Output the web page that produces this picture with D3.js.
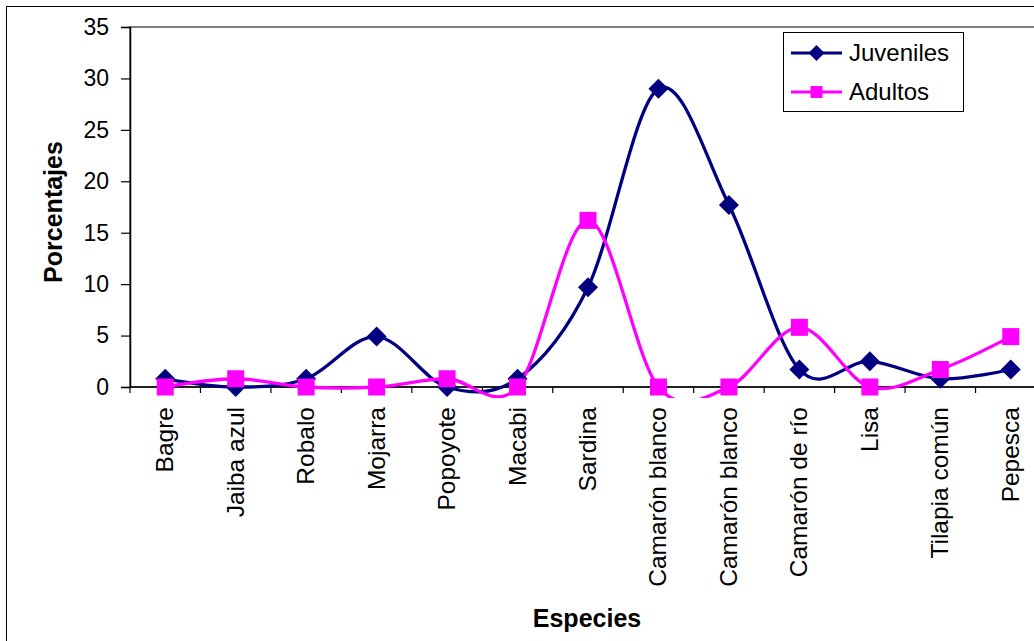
<!DOCTYPE html>
<html>
<head>
<meta charset="utf-8">
<script src="https://cdn.jsdelivr.net/npm/d3@7"></script>
<style>
  body { margin: 0; background: #fff; }
  svg text { font-family: "Liberation Sans", Arial, sans-serif; }
</style>
</head>
<body>
<div id="chart"></div>
<script>
// data
var especies = ["Bagre", "Jaiba azul", "Robalo", "Mojarra", "Popoyote", "Macabi", "Sardina",
  "Camarón blanco", "Camarón blanco", "Camarón de río", "Lisa", "Tilapia común", "Pepesca"];
var juveniles = [0.8, 0, 0.8, 4.9, 0, 0.8, 9.7, 29, 17.7, 1.7, 2.5, 0.8, 1.7];
var adultos = [0, 0.8, 0, 0, 0.8, 0, 16.2, 0, 0, 5.8, 0, 1.7, 4.9];
var yTicks = [0, 5, 10, 15, 20, 25, 30, 35];

var width = 1034, height = 641;
var stx = 130, enx = 1046, sty = 27, eny = 387;

var svg = d3.select("#chart").append("svg").attr("width", width).attr("height", height);

// outer chart frame
svg.append("rect").attr("x", 6.5).attr("y", 6.5).attr("width", 1100).attr("height", 700)
  .attr("fill", "none").attr("stroke", "#000").attr("stroke-width", 1);

// plot area frame
svg.append("rect").attr("x", stx).attr("y", sty).attr("width", enx - stx).attr("height", eny - sty)
  .attr("fill", "none").attr("stroke", "#808080").attr("stroke-width", 2);

var idx = d3.range(especies.length);
var xscale = d3.scaleBand().domain(idx).range([stx, enx]);
var yscale = d3.scaleLinear().domain([0, 35]).range([eny, sty]);
var cx = function(i) { return xscale(i) + xscale.bandwidth() / 2; };

// y axis
var yAxis = svg.append("g").attr("transform", "translate(" + stx + ",0)")
  .call(d3.axisLeft(yscale).tickValues(yTicks).tickSize(9).tickPadding(12));
yAxis.select(".domain").attr("stroke", "#000").attr("stroke-width", 1.5);
yAxis.selectAll(".tick line").attr("stroke", "#000").attr("stroke-width", 1.2);
yAxis.selectAll(".tick text").attr("font-size", 23).attr("fill", "#000")
  .style("font-family", "'Liberation Sans', Arial, sans-serif");

// x axis: ticks on category boundaries
var xAxisG = svg.append("g");
xAxisG.append("line").attr("x1", stx).attr("x2", enx).attr("y1", eny).attr("y2", eny)
  .attr("stroke", "#000").attr("stroke-width", 1.5);
xAxisG.selectAll(".xt").data(idx.concat([especies.length])).enter().append("line")
  .attr("x1", function(d) { return d < especies.length ? xscale(d) : enx; })
  .attr("x2", function(d) { return d < especies.length ? xscale(d) : enx; })
  .attr("y1", eny).attr("y2", eny + 6)
  .attr("stroke", "#000").attr("stroke-width", 1.2);
xAxisG.selectAll(".xl").data(idx).enter().append("text")
  .attr("transform", function(d) { return "translate(" + (cx(d) + 8) + "," + (eny + 20) + ") rotate(-90)"; })
  .attr("text-anchor", "end")
  .attr("font-size", 24.5)
  .text(function(d) { return especies[d]; });

// axis titles
svg.append("text").attr("x", 587).attr("y", 627).attr("text-anchor", "middle")
  .attr("font-size", 25).attr("font-weight", "bold").text("Especies");
svg.append("text").attr("transform", "translate(62,212) rotate(-90)").attr("text-anchor", "middle")
  .attr("font-size", 25).attr("font-weight", "bold").text("Porcentajes");

// clip lines slightly below the plot area
svg.append("clipPath").attr("id", "clip").append("rect")
  .attr("x", stx).attr("y", sty).attr("width", enx - stx).attr("height", eny - sty + 11);

var line = d3.line().x(function(d, i) { return cx(i); }).y(function(d) { return yscale(d); })
  .curve(d3.curveCatmullRom.alpha(0));

var series = [
  { name: "Juveniles", values: juveniles, color: "#000080", shape: "diamond" },
  { name: "Adultos", values: adultos, color: "#FF00FF", shape: "square" }
];

series.forEach(function(s) {
  svg.append("path").datum(s.values).attr("d", line).attr("clip-path", "url(#clip)")
    .attr("fill", "none").attr("stroke", s.color).attr("stroke-width", 3.3);
});

function marker(g, shape, x, y, size, color) {
  if (shape === "diamond") {
    var h = size / 2;
    g.append("path").attr("d", "M" + x + "," + (y - h) + "L" + (x + h) + "," + y + "L" + x + "," + (y + h) + "L" + (x - h) + "," + y + "Z")
      .attr("fill", color);
  } else {
    g.append("rect").attr("x", x - size / 2).attr("y", y - size / 2).attr("width", size).attr("height", size)
      .attr("fill", color);
  }
}

series.forEach(function(s) {
  var g = svg.append("g");
  s.values.forEach(function(v, i) {
    marker(g, s.shape, cx(i), yscale(v), s.shape === "diamond" ? 20 : 17, s.color);
  });
});

// legend
var lg = svg.append("g");
lg.append("rect").attr("x", 783.5).attr("y", 32.5).attr("width", 180).attr("height", 79)
  .attr("fill", "#fff").attr("stroke", "#000").attr("stroke-width", 1);
series.forEach(function(s, i) {
  var y = 53 + i * 39;
  lg.append("line").attr("x1", 791).attr("x2", 842).attr("y1", y).attr("y2", y)
    .attr("stroke", s.color).attr("stroke-width", 3);
  marker(lg, s.shape, 816.5, y, s.shape === "diamond" ? 16 : 12, s.color);
  lg.append("text").attr("x", 849).attr("y", y + 8).attr("font-size", 24).text(s.name);
});
</script>
</body>
</html>
